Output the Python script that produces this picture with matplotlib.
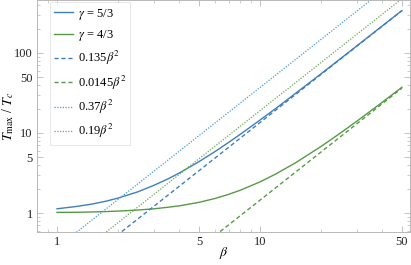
import matplotlib
matplotlib.use("Agg")
import matplotlib.pyplot as plt
from matplotlib.ticker import FixedLocator, NullFormatter

beta = [1, 1.25, 1.5, 1.75, 2, 2.5, 3, 3.5, 4, 5, 6, 7, 8, 10, 12, 15, 20, 25, 30, 40, 50]
t_53 = [1.13, 1.21, 1.30, 1.41, 1.54, 1.84, 2.22, 2.65, 3.16, 4.38, 5.86, 7.62, 9.64,
        14.5, 20.4, 31.4, 55.0, 85.4, 122.5, 217, 338]
t_43 = [1.02, 1.023, 1.033, 1.044, 1.058, 1.091, 1.13, 1.18, 1.23, 1.36, 1.52, 1.71, 1.93,
        2.45, 3.09, 4.26, 6.8, 10.06, 14.05, 24.2, 37.25]

# asymptotic power laws, value at beta=1 and beta=50
fit_beta = [1, 50]
fit_53 = [0.135, 337.5]
fit_43 = [0.0145, 36.25]
fit2_53 = [0.37, 925]
fit2_43 = [0.19, 475]

blue = '#3f7fb8'
blue_light = '#4a9bd6'
green = '#579a45'
green_light = '#6aaa55'
frame = '#b8b8b8'

plt.rcParams['font.family'] = ['Liberation Serif', 'DejaVu Serif']
plt.rcParams['mathtext.fontset'] = 'stix'

fig = plt.figure(figsize=(4.11, 2.65), dpi=100)
ax = fig.add_axes([37 / 411, 33 / 265, 373 / 411, 232 / 265])

ax.plot(beta, t_53, color=blue, lw=1.0, label=r'$\gamma$ = 5/3')
ax.plot(beta, t_43, color=green, lw=1.0, label=r'$\gamma$ = 4/3')
ax.plot(fit_beta, fit_53, color=blue, lw=1.0, ls=(0, (3, 2)), label=r'0.135$\beta^2$')
ax.plot(fit_beta, fit_43, color=green, lw=1.0, ls=(0, (3, 2)), label=r'0.0145$\beta^2$')
ax.plot(fit_beta, fit2_53, color=blue_light, lw=0.9, ls=(0, (1, 1.2)), label=r'0.37$\beta^2$')
ax.plot(fit_beta, fit2_43, color=green_light, lw=0.9, ls=(0, (1, 1.2)), label=r'0.19$\beta^2$')

ax.set_xscale('log')
ax.set_yscale('log')
ax.set_xlim(0.797, 54.8)
ax.set_ylim(0.58, 458)

ax.xaxis.set_major_locator(FixedLocator([1, 5, 10, 50]))
ax.xaxis.set_minor_locator(FixedLocator([0.9, 2, 3, 4, 6, 7, 8, 9, 20, 30, 40]))
ax.yaxis.set_major_locator(FixedLocator([1, 5, 10, 50, 100]))
ax.yaxis.set_minor_locator(FixedLocator([0.6, 0.7, 0.8, 0.9, 2, 3, 4, 6, 7, 8, 9,
                                         20, 30, 40, 60, 70, 80, 90, 200, 300, 400]))
ax.set_xticklabels(['1', '5', '10', '50'])
ax.set_yticklabels(['1', '5', '10', '50', '100'])
ax.xaxis.set_minor_formatter(NullFormatter())
ax.yaxis.set_minor_formatter(NullFormatter())
ax.tick_params(which='both', direction='in', top=True, right=True, color=frame,
               labelsize=9, labelcolor='#222222', pad=3)
ax.tick_params(which='major', length=4, width=0.6)
ax.tick_params(which='minor', length=2.5, width=0.5)
for s in ax.spines.values():
    s.set_color(frame)
    s.set_linewidth(0.7)

ax.set_xlabel(r'$\beta$', fontsize=10, labelpad=-2.5)
ax.set_ylabel(r'$T_{\max}$ / $T_c$', fontsize=10, labelpad=-1.5)

leg = ax.legend(loc='upper left', bbox_to_anchor=(0.035, 0.99), borderaxespad=0,
                fontsize=9, frameon=True, fancybox=False, handlelength=1.5,
                handletextpad=0.35, labelspacing=0.5, borderpad=0.35)
leg.get_frame().set_edgecolor('#dddddd')
leg.get_frame().set_linewidth(0.6)

fig.savefig('out.png', dpi=100)
